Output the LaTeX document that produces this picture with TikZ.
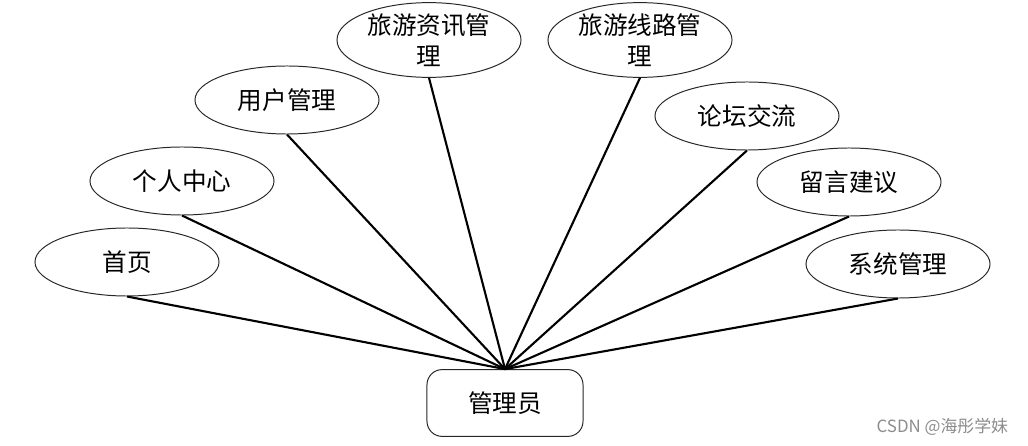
\documentclass[tikz,border=0pt]{standalone}
\usepackage{fontspec}
\setmainfont{Noto Sans CJK SC}
\newfontfamily\wmfont{Noto Sans CJK SC}
\usetikzlibrary{shapes.geometric}
\tikzset{
    fn node/.style={ellipse, draw=black!85, line width=0.7pt,
                    minimum width=4.6cm, minimum height=1.7cm,
                    inner sep=0pt, font=\fontsize{17.5}{20}\selectfont},
    fn tall/.style={fn node, minimum height=1.85cm, align=center,
                    font=\fontsize{17.5}{22}\selectfont},
    role node/.style={rectangle, rounded corners=0.38cm, draw=black!85,
                      line width=0.7pt, minimum width=3.9cm,
                      minimum height=1.67cm, font=\fontsize{17.5}{20}\selectfont},
    fn link/.style={line width=1.5pt, black},
    wm/.style={font=\wmfont\fontsize{12}{14}\selectfont, text=black!45},
}
\begin{document}
\begin{tikzpicture}[x=0.025cm, y=-0.025cm]
    \useasboundingbox (0,0) rectangle (1028,446);
    % Role
    \node[role node] (admin) at (505, 403) {管理员};
    % Functions
    \node[fn node] (home) at (127, 262) {首页};
    \node[fn node] (center) at (182, 181) {个人中心};
    \node[fn node] (user) at (287, 100) {用户管理};
    \node[fn tall] (news) at (429, 40) {旅游资讯管\\理};
    \node[fn tall] (route) at (640, 40) {旅游线路管\\理};
    \node[fn node] (forum) at (747, 116) {论坛交流};
    \node[fn node] (msg) at (849, 182) {留言建议};
    \node[fn node] (sys) at (898, 264) {系统管理};
    % Links
    \foreach \f in {home, center, user, news, route, forum, msg, sys}
        \draw[fn link] (\f.south) -- (admin.north);
    % Watermark
    \node[wm, anchor=east] (mark) at (1013, 427) {CSDN @海彤学妹};
\end{tikzpicture}
\end{document}
